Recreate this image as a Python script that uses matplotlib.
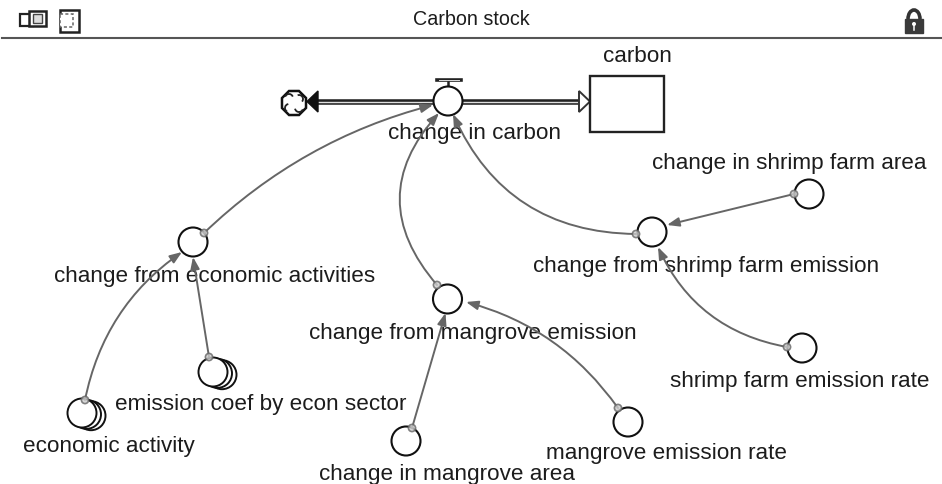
import matplotlib
matplotlib.use("Agg")
import matplotlib.pyplot as plt
from matplotlib.patches import Circle, Rectangle, FancyArrowPatch, Polygon, RegularPolygon, Arc

W, H = 942, 484
title = "Carbon stock"
# name, circle x, y, label x, y
aux_names = ["change from economic activities", "change from mangrove emission",
             "change from shrimp farm emission", "change in shrimp farm area",
             "shrimp farm emission rate", "change in mangrove area", "mangrove emission rate"]
aux_x = [193, 447.5, 652, 809, 802, 406, 628]
aux_y = [242, 299, 232, 194, 348, 441, 422]
lab_x = [214.5, 472.5, 706, 789, 799.5, 447, 667]
lab_y = [275, 332, 265, 162.5, 380, 473, 452.5]
array_names = ["emission coef by econ sector", "economic activity"]
array_x = [213, 82]
array_y = [372, 413]
array_lab_x = [261, 109]
array_lab_y = [403, 445]
# connector: start, end, curvature
link_x0 = [204, 85, 209, 437, 636, 794, 787, 412, 618]
link_y0 = [233, 400, 357, 285, 234, 194, 347, 428, 408]
link_x1 = [433, 182, 193, 439, 453, 667, 658, 445.5, 466]
link_y1 = [105, 252, 257, 113, 114, 225, 247, 313, 302]
link_rad = [-0.13, -0.2, 0, -0.44, -0.32, 0, -0.26, 0, 0.18]

fig = plt.figure(figsize=(W / 100, H / 100), dpi=100)
ax = fig.add_axes([0, 0, 1, 1])
ax.set_xlim(0, W)
ax.set_ylim(H, 0)
ax.axis("off")
FONT = "Liberation Sans"
FS = 16.2
INK = "#1c1c1c"
GRAY = "#666666"

def txt(x, y, s, size=FS):
    ax.text(x, y + 1.5, s, ha="center", va="center", fontsize=size, family=FONT, color=INK, zorder=4)

def circ(x, y, r=14.5, lw=1.5, z=3):
    ax.add_patch(Circle((x, y), r, fc="white", ec="#111111", lw=lw, zorder=z))

# Header
ax.plot([2, W], [38, 38], color="#555555", lw=1.5)
txt(471, 18, title, 14.2)
ax.add_patch(Rectangle((20, 14), 13, 12, fc="white", ec="#222222", lw=1.6))
ax.add_patch(Rectangle((29, 10.5), 17, 15.5, fc="white", ec="#222222", lw=1.8))
ax.add_patch(Rectangle((33, 14), 9, 9, fc="#dddddd", ec="#444444", lw=1))
ax.add_patch(Rectangle((60, 10), 19, 22, fc="white", ec="#222222", lw=1.8))
ax.add_patch(Rectangle((60, 14), 13, 13, fc="white", ec="#666666", lw=1.1, ls=(0, (2, 1.5))))
# Lock
ax.add_patch(Arc((914, 19), 12, 18, theta1=180, theta2=360, color="#333333", lw=2.6))
ax.add_patch(Rectangle((905, 19), 18, 13.5, fc="#3a3a3a", ec="#3a3a3a", lw=1))
ax.add_patch(Circle((914, 24), 2, fc="white", ec="none", zorder=3))
ax.plot([914, 914], [24, 30], color="white", lw=1.1, zorder=3)

# Flow pipes
PIPE_Y = 101.5
for x0, x1 in [(312, 436), (461, 580)]:
    ax.plot([x0, x1], [PIPE_Y, PIPE_Y], color="#222222", lw=4, solid_capstyle="butt", zorder=1)
    ax.plot([x0, x1], [PIPE_Y, PIPE_Y], color="#e0e0e0", lw=1, solid_capstyle="butt", zorder=1)
ax.add_patch(Polygon([[307, PIPE_Y], [318, 91], [318, 112]], fc="#111111", ec="#111111", zorder=2))
ax.add_patch(Polygon([[590, PIPE_Y], [579, 91], [579, 112]], fc="white", ec="#333333", lw=1.4, zorder=2))

# Cloud
ax.add_patch(RegularPolygon((294, 103), 8, radius=13, orientation=0.39, fc="white", ec="#111111", lw=1.8, zorder=2))
for (cx, cy, t1, t2) in [(289, 98, 200, 340), (299, 99, 250, 40), (299, 108, 20, 170), (289, 108, 120, 260)]:
    ax.add_patch(Arc((cx, cy), 8, 8, theta1=t1, theta2=t2, color="#222222", lw=1.3, zorder=3))

# Stock
ax.add_patch(Rectangle((590, 76), 74, 56, fc="white", ec="#222222", lw=1.7, zorder=2))
txt(637, 55, "carbon")

# Valve
circ(448, 101)
ax.plot([448, 448], [82, 87], color="#222222", lw=1.8, zorder=2)
ax.plot([437, 461], [80, 80], color="#222222", lw=2.6, zorder=2)
ax.plot([439, 459], [80, 80], color="#dddddd", lw=0.7, zorder=2)
txt(474, 132, "change in carbon")

# Arrayed variables
for x, y in zip(array_x, array_y):
    for d in (9, 4.5, 0):
        circ(x + d, y + d * 0.3, lw=1.4)
for s, x, y in zip(array_names, array_lab_x, array_lab_y):
    txt(x, y, s)

# Variables
for x, y in zip(aux_x, aux_y):
    circ(x, y)
for s, x, y in zip(aux_names, lab_x, lab_y):
    txt(x, y, s)

# Connectors
for x0, y0, x1, y1, rad in zip(link_x0, link_y0, link_x1, link_y1, link_rad):
    ax.add_patch(FancyArrowPatch((x0, y0), (x1, y1), connectionstyle=f"arc3,rad={rad}",
                                 arrowstyle="-|>,head_length=7.2,head_width=2.7", mutation_scale=1,
                                 color=GRAY, lw=1.4, shrinkA=0, shrinkB=0, zorder=5))
    ax.add_patch(Circle((x0, y0), 3.6, fc="#cccccc", alpha=0.8, ec=GRAY, lw=1.2, zorder=6))

fig.savefig("out.png", dpi=100)
